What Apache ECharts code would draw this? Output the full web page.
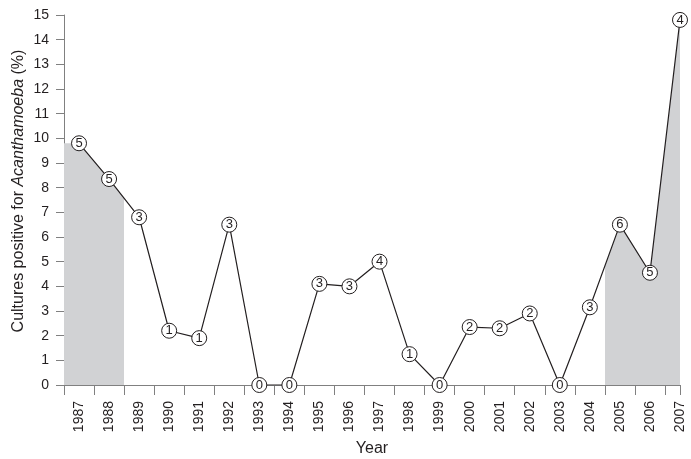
<!DOCTYPE html>
<html lang="en">
<head>
<meta charset="UTF-8">
<title>Acanthamoeba cultures</title>
<script src="https://cdn.jsdelivr.net/npm/echarts@6/dist/echarts.min.js"></script>
<style>
  html, body { margin: 0; padding: 0; background: #fff; }
  #chart { width: 691px; height: 459px; }
</style>
</head>
<body>
<div id="chart"></div>
<script>
// data
const years = [1987, 1988, 1989, 1990, 1991, 1992, 1993, 1994, 1995, 1996, 1997,
               1998, 1999, 2000, 2001, 2002, 2003, 2004, 2005, 2006, 2007];
const percent = [9.8, 8.35, 6.8, 2.2, 1.9, 6.5, 0, 0, 4.1, 4.0, 5.0,
                 1.25, 0, 2.35, 2.3, 2.9, 0, 3.15, 6.5, 4.55, 14.8];
const positives = [5, 5, 3, 1, 1, 3, 0, 0, 3, 3, 4, 1, 0, 2, 2, 2, 0, 3, 6, 5, 4];
const shadedRanges = [[1986.5, 1988.5], [2004.5, 2007]];
const yTicks = { min: 0, max: 15, step: 1 };

const xMin = years[0] - 0.5;
const xMax = years[years.length - 1];

// label axis: one slot per half year, boundaries on even slots, years on odd slots
const labelSlots = [];
for (let i = 0; i < years.length * 2; i++) {
  labelSlots.push(i % 2 === 1 ? String(years[(i - 1) / 2]) : '');
}

const points = years.map((y, i) => [y, percent[i]]);
const areaPoints = [[xMin, percent[0]]].concat(points);

const grey = '#d1d2d4';
const axisGrey = '#808080';
const txt = '#231f20';

const pieces = [];
let last = xMin;
shadedRanges.forEach(r => {
  if (r[0] > last) pieces.push({ gt: last, lt: r[0], color: 'rgba(255,255,255,0)' });
  pieces.push({ gte: r[0], lte: r[1], color: grey });
  last = r[1];
});

const chart = echarts.init(document.getElementById('chart'), null, { renderer: 'canvas' });

chart.setOption({
  animation: false,
  backgroundColor: '#fff',
  textStyle: { fontFamily: 'Liberation Sans, Arial, sans-serif' },
  grid: { left: 64, right: 11, top: 15, bottom: 74, outerBoundsMode: 'none', containLabel: false },
  visualMap: {
    show: false,
    type: 'piecewise',
    seriesIndex: 1,
    dimension: 0,
    pieces: pieces,
    outOfRange: { color: 'rgba(255,255,255,0)' }
  },
  xAxis: [
    {
      type: 'value',
      min: xMin,
      max: xMax,
      show: false
    },
    {
      type: 'category',
      data: labelSlots,
      boundaryGap: false,
      position: 'bottom',
      axisLine: { show: true, lineStyle: { color: axisGrey, width: 1 } },
      axisTick: { show: true, interval: 1, length: 10, lineStyle: { color: axisGrey } },
      axisLabel: {
        interval: 0, rotate: 90, margin: 16,
        fontSize: 14, color: txt
      },
      name: 'Year',
      nameLocation: 'middle',
      nameGap: 56,
      nameMoveOverlap: false,
      nameTextStyle: { fontSize: 16, color: txt }
    }
  ],
  yAxis: {
    type: 'value',
    min: yTicks.min,
    max: yTicks.max,
    interval: yTicks.step,
    axisLine: { show: true, lineStyle: { color: axisGrey, width: 1 } },
    axisTick: { show: true, length: 8, lineStyle: { color: axisGrey } },
    axisLabel: { fontSize: 14, color: txt, margin: 15 },
    splitLine: { show: false },
    name: '{n|Cultures positive for }{i|Acanthamoeba}{n| (%)}',
    nameLocation: 'middle',
    nameRotate: 90,
    nameGap: 37,
    nameMoveOverlap: false,
    nameTextStyle: {
      padding: [0, 0, 0, 18],
      rich: {
        n: { fontSize: 16, color: txt },
        i: { fontSize: 16, color: txt, fontStyle: 'italic' }
      }
    }
  },
  series: [
    {
      type: 'line',
      xAxisIndex: 0,
      data: points,
      z: 3,
      symbol: 'circle',
      symbolSize: 15,
      lineStyle: { color: txt, width: 1.2 },
      itemStyle: { color: '#fff', borderColor: txt, borderWidth: 1 },
      label: {
        show: true,
        position: 'inside',
        fontSize: 13,
        color: txt,
        formatter: p => String(positives[p.dataIndex])
      }
    },
    {
      type: 'line',
      xAxisIndex: 0,
      data: areaPoints,
      z: 1,
      silent: true,
      symbol: 'none',
      showSymbol: false,
      lineStyle: { width: 0, opacity: 0 },
      areaStyle: { opacity: 1 }
    }
  ]
});
</script>
</body>
</html>
